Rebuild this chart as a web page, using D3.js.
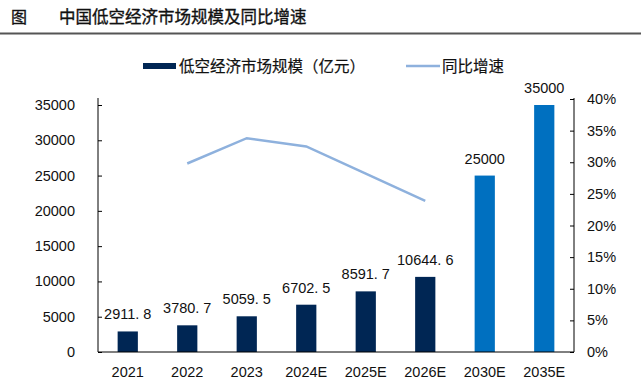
<!DOCTYPE html>
<html>
<head>
<meta charset="utf-8">
<script src="https://cdn.jsdelivr.net/npm/d3@7"></script>
<style>
  body { margin: 0; background: #fff; }
  svg text { fill: #111; }
</style>
</head>
<body>
<div class="chart"></div>
<script>
// chart data
var categories = ["2021", "2022", "2023", "2024E", "2025E", "2026E", "2030E", "2035E"];
var marketSize = [2911.8, 3780.7, 5059.5, 6702.5, 8591.7, 10644.6, 25000, 35000];
var growthYears = ["2022", "2023", "2024E", "2025E", "2026E"];
var growthRate = [0.298, 0.338, 0.325, 0.282, 0.239];
var leftTicks = [0, 5000, 10000, 15000, 20000, 25000, 30000, 35000];
var rightTicks = [0, 0.05, 0.1, 0.15, 0.2, 0.25, 0.3, 0.35, 0.4];
var forecastCats = ["2030E", "2035E"];

var svgWidth = 641;
var svgHeight = 387;

var svg = d3.select(".chart")
  .append("svg")
  .attr("width", svgWidth)
  .attr("height", svgHeight);

var cjk = "'Noto Sans CJK SC', sans-serif";
var latin = "'Liberation Sans', Arial, sans-serif";

// title
svg.append("text")
  .attr("x", 11).attr("y", 23)
  .attr("font-family", cjk).attr("font-size", "16px")
  .attr("stroke", "#111").attr("stroke-width", 0.35)
  .text("图");
svg.append("text")
  .attr("x", 59).attr("y", 23)
  .attr("font-family", cjk).attr("font-size", "16.5px")
  .attr("stroke", "#111").attr("stroke-width", 0.35)
  .text("中国低空经济市场规模及同比增速");
svg.append("line")
  .attr("x1", 0).attr("x2", svgWidth)
  .attr("y1", 33.5).attr("y2", 33.5)
  .attr("stroke", "#555").attr("stroke-width", 2);

// plot area
var plotLeft = 98, plotRight = 574, plotTop = 98, plotBottom = 352;

var xScale = d3.scaleBand().domain(categories).range([plotLeft, plotRight]).paddingInner(0.66).paddingOuter(0.33);
var yScale = d3.scaleLinear().domain([0, 35000]).range([plotBottom, 105]);
var y2Scale = d3.scaleLinear().domain([0, 0.4]).range([plotBottom, 99]);

// bars
svg.append("g").selectAll("rect")
  .data(categories)
  .enter()
  .append("rect")
  .attr("x", function (d) { return xScale(d); })
  .attr("width", xScale.bandwidth())
  .attr("y", function (d, i) { return yScale(marketSize[i]); })
  .attr("height", function (d, i) { return plotBottom - yScale(marketSize[i]); })
  .attr("fill", function (d) { return forecastCats.indexOf(d) >= 0 ? "#0070C0" : "#002654"; });

// bar value labels
var labels = svg.append("g").selectAll("text")
  .data(categories)
  .enter()
  .append("text")
  .attr("x", function (d) { return xScale(d) + xScale.bandwidth() / 2; })
  .attr("y", function (d, i) { return yScale(marketSize[i]) - 12; })
  .attr("text-anchor", "middle")
  .attr("font-family", latin)
  .attr("font-size", "14.5px");
labels.each(function (d, i) {
  var parts = String(marketSize[i]).split(".");
  var t = d3.select(this);
  if (parts.length > 1) {
    t.append("tspan").text(parts[0] + ".");
    t.append("tspan").attr("dx", 4).text(parts[1]);
  } else {
    t.text(parts[0]);
  }
});

// growth line
var line = d3.line()
  .x(function (d) { return xScale(d) + xScale.bandwidth() / 2; })
  .y(function (d, i) { return y2Scale(growthRate[i]); });
svg.append("path")
  .datum(growthYears)
  .attr("d", line)
  .attr("fill", "none")
  .attr("stroke", "#8EB1DD")
  .attr("stroke-width", 2.5);

// left axis
var yAxis = d3.axisRight(yScale).tickValues(leftTicks).tickSize(4).tickFormat("");
var gy = svg.append("g").attr("transform", "translate(" + plotLeft + ",0)").call(yAxis);
gy.select(".domain").remove();
gy.selectAll("line").attr("stroke", "#000");
svg.append("line").attr("x1", plotLeft).attr("x2", plotLeft).attr("y1", plotTop).attr("y2", plotBottom).attr("stroke", "#000");
svg.append("g").selectAll("text")
  .data(leftTicks).enter().append("text")
  .attr("x", 75).attr("y", function (d) { return yScale(d) + 5; })
  .attr("text-anchor", "end")
  .attr("font-family", latin).attr("font-size", "14.5px")
  .text(function (d) { return d; });

// right axis
var y2Axis = d3.axisLeft(y2Scale).tickValues(rightTicks).tickSize(4).tickFormat("");
var gy2 = svg.append("g").attr("transform", "translate(" + plotRight + ",0)").call(y2Axis);
gy2.select(".domain").remove();
gy2.selectAll("line").attr("stroke", "#000");
svg.append("line").attr("x1", plotRight).attr("x2", plotRight).attr("y1", plotTop).attr("y2", plotBottom).attr("stroke", "#000");
svg.append("g").selectAll("text")
  .data(rightTicks).enter().append("text")
  .attr("x", 587).attr("y", function (d) { return y2Scale(d) + 5; })
  .attr("font-family", latin).attr("font-size", "14.5px")
  .text(d3.format(".0%"));

// bottom axis
svg.append("line").attr("x1", plotLeft).attr("x2", plotRight).attr("y1", plotBottom).attr("y2", plotBottom).attr("stroke", "#000");
svg.append("g").selectAll("text")
  .data(categories).enter().append("text")
  .attr("x", function (d) { return xScale(d) + xScale.bandwidth() / 2; })
  .attr("y", 377)
  .attr("text-anchor", "middle")
  .attr("font-family", latin).attr("font-size", "14.5px")
  .text(function (d) { return d; });

// legend
svg.append("rect").attr("x", 143).attr("y", 63).attr("width", 33).attr("height", 6).attr("fill", "#002654");
svg.append("text").attr("x", 179).attr("y", 72)
  .attr("font-family", cjk).attr("font-size", "15.5px")
  .attr("stroke", "#111").attr("stroke-width", 0.2)
  .text("低空经济市场规模（亿元）");
svg.append("line").attr("x1", 406).attr("x2", 440).attr("y1", 66).attr("y2", 66)
  .attr("stroke", "#8EB1DD").attr("stroke-width", 2.5);
svg.append("text").attr("x", 442).attr("y", 72)
  .attr("font-family", cjk).attr("font-size", "15.5px")
  .attr("stroke", "#111").attr("stroke-width", 0.2)
  .text("同比增速");
</script>
</body>
</html>
